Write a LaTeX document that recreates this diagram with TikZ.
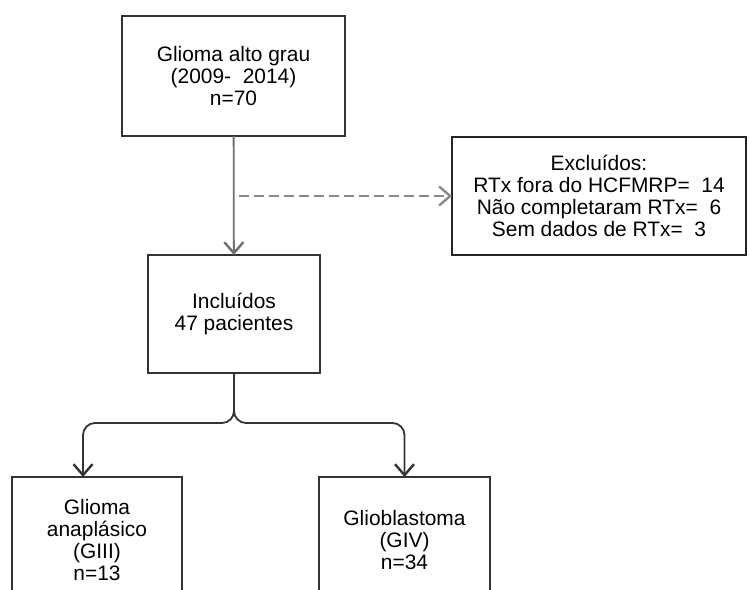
\documentclass[tikz,border=0pt]{standalone}
\usepackage{fontspec}
\setmainfont{Liberation Sans}
\usetikzlibrary{arrows.meta}

\definecolor{boxline}{HTML}{333333}
\definecolor{linegray}{HTML}{707070}
\definecolor{dashgray}{HTML}{8A8A8A}

\tikzset{
  flowbox/.style={draw=boxline, line width=2.8bp, fill=white, align=center,
    inner sep=0pt, outer sep=0pt, font=\fontsize{21}{22}\selectfont},
  exclbox/.style={flowbox, draw=black!85, line width=2bp},
  vtip/.style={-{Straight Barb[length=11bp,width=19bp,line width=2.4bp]}},
  flowline/.style={vtip, draw=linegray, line width=1.8bp},
  forkline/.style={vtip, draw=boxline, line width=1.8bp, rounded corners=12bp},
  exclline/.style={vtip, draw=dashgray, line width=1.8bp, dash pattern=on 10bp off 5bp}
}

\begin{document}
\begin{tikzpicture}[x=1bp,y=-1bp]
\useasboundingbox (0,0) rectangle (750,590);
\clip (0,0) rectangle (750,590);

\node[flowbox, minimum width=223bp, minimum height=120bp] at (233.5,76) (glioma)
  {Glioma alto grau\\(2009-\ \ 2014)\\n=70};

\node[exclbox, minimum width=294bp, minimum height=118bp] at (599,196) (excl)
  {Excluídos:\\RTx fora do HCFMRP=\ \ 14\\Não completaram RTx=\ \ 6\\Sem dados de RTx=\ \ 3};

\node[flowbox, minimum width=172bp, minimum height=118bp] at (234,314) (incl)
  {Incluídos\\47 pacientes};

% bottom boxes run past the lower edge
\node[flowbox, minimum width=170bp, minimum height=126bp] at (97,540) (gIII)
  {Glioma\\anaplásico\\(GIII)\\n=13};
\node[flowbox, minimum width=171bp, minimum height=126bp] at (404.5,540) (gIV)
  {Glioblastoma\\(GIV)\\n=34};

\coordinate (fork) at (234,423);
\coordinate (tipIII) at (83,477);

\draw[flowline] (glioma) -- (incl);
\draw[exclline] ([xshift=5bp]glioma.south |- excl.west) -- (excl.west);

\draw[forkline] (incl.south) |- (fork -| tipIII) -- (tipIII);
\draw[forkline] (incl.south) |- (fork -| gIV.north) -- (gIV.north);

\end{tikzpicture}
\end{document}
